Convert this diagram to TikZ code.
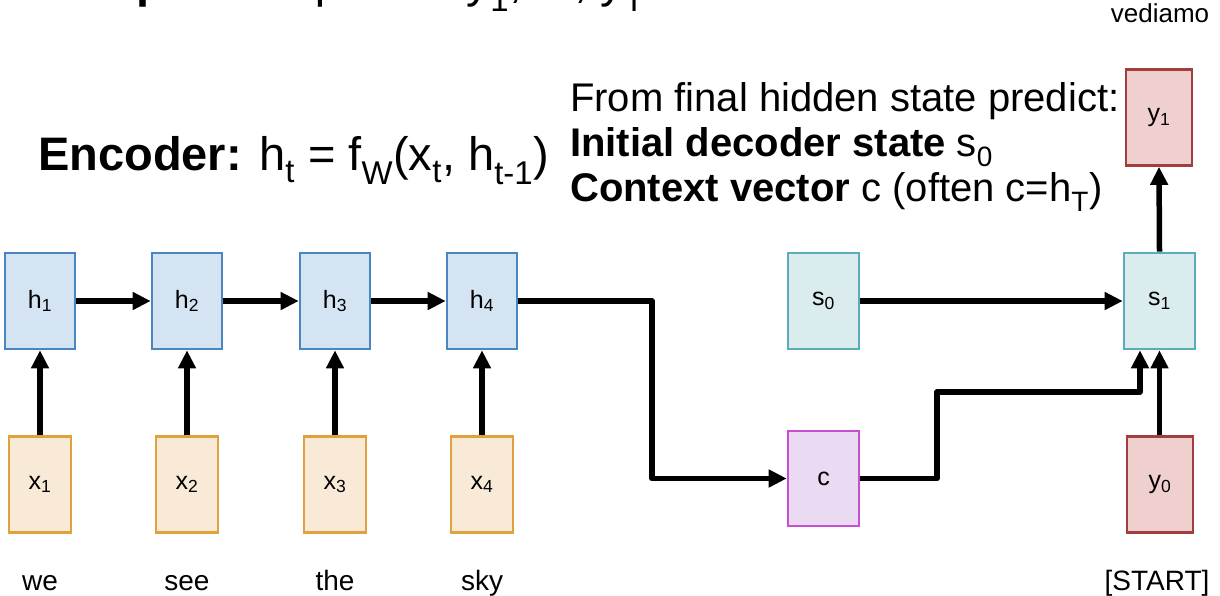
\documentclass[tikz,border=0pt]{standalone}
\usepackage{fontspec}
\setmainfont{Liberation Sans}
\usetikzlibrary{arrows.meta}

\definecolor{hline}{HTML}{4A86C0}
\definecolor{hfill}{HTML}{D5E4F2}
\definecolor{xline}{HTML}{E0A23E}
\definecolor{xfill}{HTML}{F8EAD6}
\definecolor{sline}{HTML}{5AADB9}
\definecolor{sfill}{HTML}{DAECEE}
\definecolor{cline}{HTML}{C94FD2}
\definecolor{cfill}{HTML}{EADAF2}
\definecolor{yline}{HTML}{A23E3E}
\definecolor{yfill}{HTML}{F0CFCF}

\tikzset{
  cell/.style={rectangle, line width=2.6pt, inner sep=0pt,
    minimum width=70pt, minimum height=96pt, font=\fontsize{25}{29}\selectfont},
  hid/.style={cell, draw=hline, fill=hfill},
  inp/.style={cell, draw=xline, fill=xfill, minimum width=62pt},
  dec/.style={cell, draw=sline, fill=sfill, minimum width=71pt},
  ctx/.style={cell, draw=cline, fill=cfill, minimum width=71pt, minimum height=95pt},
  outb/.style={cell, draw=yline, fill=yfill, minimum width=66pt},
  flow/.style={line width=5.5pt, line join=round, -{Triangle[length=18pt,width=17pt]}},
  word/.style={font=\fontsize{28}{32}\selectfont, inner sep=0pt, anchor=base},
  head/.style={font=\fontsize{47}{52}\selectfont, inner sep=0pt, anchor=base west},
  note/.style={font=\fontsize{40}{45}\selectfont, inner sep=0pt, anchor=base west},
}

\begin{document}
\begin{tikzpicture}[x=1pt, y=-1pt]
  \useasboundingbox (0,0) rectangle (1220,595);
  \clip (0,0) rectangle (1220,595);

  % headings
  \node[head] (outline) at (55,-3) {\textbf{Output:} Sequence y\textsubscript{1}, ..., y\textsubscript{T'}};
  \node[font=\fontsize{26}{30}\selectfont, inner sep=0pt, anchor=base] (gloss) at (1160,22) {vediamo};
  \node[head] (enc) at (38,170) {\textbf{Encoder:} h\textsubscript{t} = f\textsubscript{W}(x\textsubscript{t}, h\textsubscript{t-1})};
  \node[note] (n1) at (570,111) {From final hidden state predict:};
  \node[note] (n2) at (570,156) {\textbf{Initial decoder state} s\textsubscript{0}};
  \node[note] (n3) at (570,201) {\textbf{Context vector} c (often c=h\textsubscript{T})};

  % encoder
  \foreach \i/\px/\w in {1/40/we, 2/187/see, 3/335/the, 4/482/sky} {
    \node[hid] (h\i) at (\px,301) {h\textsubscript{\i}};
    \node[inp] (x\i) at (\px,484.5) {x\textsubscript{\i}};
    \node[word] (w\i) at (\px,590) {\w};
    \draw[flow] (x\i.north) -- (h\i.south);
  }
  \foreach \a/\b in {1/2, 2/3, 3/4}
    \draw[flow] (h\a.east) -- (h\b.west);

  % decoder
  \node[dec] (s0) at (823.5,301) {s\textsubscript{0}};
  \node[dec] (s1) at (1159.5,301) {s\textsubscript{1}};
  \node[ctx] (c) at (823.5,478.5) {c};
  \node[outb] (y0) at (1160,484.5) {y\textsubscript{0}};
  \node[outb] (y1) at (1159,117.5) {y\textsubscript{1}};
  \node[word] (start) at (1157,590) {[START]};

  \coordinate (k1) at (652,301);
  \coordinate (k2) at (937,392);
  \coordinate (k3) at (1140,392);

  \draw[flow] (h4.east) -- (k1) |- (c.west);
  \draw[flow] (c.east) -| (k2) -- (k3) -- (k3 |- s1.south);
  \draw[flow] (s0.east) -- (s1.west);
  \draw[flow] (y0.north -| s1.south) -- (s1.south);
  \draw[flow] (s1.north) -- (y1.south);
\end{tikzpicture}
\end{document}
